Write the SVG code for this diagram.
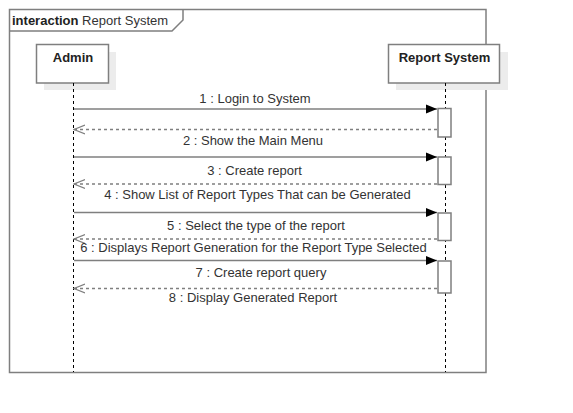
<svg xmlns="http://www.w3.org/2000/svg" width="573" height="413" viewBox="0 0 573 413">
<style>
.frame{fill:none;stroke:#7f7f7f;stroke-width:1.5}
.box{fill:#fff;stroke:#7f7f7f;stroke-width:1.5}
.shadow{fill:#ececec}
.life{stroke:#000;stroke-width:1;stroke-dasharray:3,3;fill:none}
.act{fill:#fff;stroke:#7f7f7f;stroke-width:1.5}
.msg{stroke:#7f7f7f;stroke-width:1.5;fill:none}
.ret{stroke:#7f7f7f;stroke-width:1.5;stroke-dasharray:3,3;fill:none}
text{font-family:"Liberation Sans",Arial,sans-serif;font-size:13px;fill:#333}
.lbl{text-anchor:middle}
.b{font-weight:bold;fill:#222}
</style>
<defs>
<marker id="sync" markerWidth="12" markerHeight="10" refX="11" refY="5" orient="auto" markerUnits="userSpaceOnUse">
<path d="M0,0.5 L11,5 L0,9.5 Z" fill="#000"/>
</marker>
<marker id="open" markerWidth="12" markerHeight="12" refX="11" refY="6" orient="auto" markerUnits="userSpaceOnUse">
<path d="M0,1.5 L11,6 L0,10.5" fill="none" stroke="#7f7f7f" stroke-width="1.2"/>
</marker>
</defs>
<rect x="0" y="0" width="573" height="413" fill="#fff"/>
<g id="frame">
<rect class="frame" x="9.5" y="9.5" width="476.5" height="363"/>
<path class="frame" d="M9.5,31 L172,31 L183,20 L183,9.5"/>
<text x="12" y="25"><tspan class="b">interaction</tspan> Report System</text>
</g>
<g id="admin">
<rect class="shadow" x="44" y="52" width="72" height="38"/>
<rect class="box" x="36.5" y="44.5" width="72" height="38.5"/>
<text class="lbl b" x="73" y="62">Admin</text>
<line class="life" x1="73.5" y1="83" x2="73.5" y2="372"/>
</g>
<g id="report-system">
<rect class="shadow" x="396" y="52" width="112" height="38"/>
<rect class="box" x="388.5" y="44.5" width="111" height="38.5"/>
<text class="lbl b" x="444.5" y="62">Report System</text>
<line class="life" x1="445.5" y1="83" x2="445.5" y2="372"/>
<rect class="act" x="438" y="108.5" width="13" height="28.5"/>
<rect class="act" x="438" y="157" width="13" height="27.5"/>
<rect class="act" x="438" y="213" width="13" height="27.5"/>
<rect class="act" x="438" y="261" width="13" height="32"/>
</g>
<g id="connectors">
<line class="msg" x1="74" y1="109" x2="437" y2="109" marker-end="url(#sync)"/>
<text class="lbl" x="255" y="103">1 : Login to System</text>
<line class="ret" x1="437" y1="129.5" x2="74" y2="129.5" marker-end="url(#open)"/>
<text class="lbl" x="253" y="145">2 : Show the Main Menu</text>
<line class="msg" x1="74" y1="157" x2="437" y2="157" marker-end="url(#sync)"/>
<text class="lbl" x="254.5" y="175">3 : Create report</text>
<line class="ret" x1="437" y1="184" x2="74" y2="184" marker-end="url(#open)"/>
<text class="lbl" x="257.5" y="199">4 : Show List of Report Types That can be Generated</text>
<line class="msg" x1="74" y1="212.5" x2="437" y2="212.5" marker-end="url(#sync)"/>
<text class="lbl" x="256" y="230">5 : Select the type of the report</text>
<line class="ret" x1="437" y1="239" x2="74" y2="239" marker-end="url(#open)"/>
<text class="lbl" x="253.5" y="252">6 : Displays Report Generation for the Report Type Selected</text>
<line class="msg" x1="74" y1="260.5" x2="437" y2="260.5" marker-end="url(#sync)"/>
<text class="lbl" x="261" y="277">7 : Create report query</text>
<line class="ret" x1="437" y1="288.5" x2="74" y2="288.5" marker-end="url(#open)"/>
<text class="lbl" x="253" y="302">8 : Display Generated Report</text>
</g>
</svg>
